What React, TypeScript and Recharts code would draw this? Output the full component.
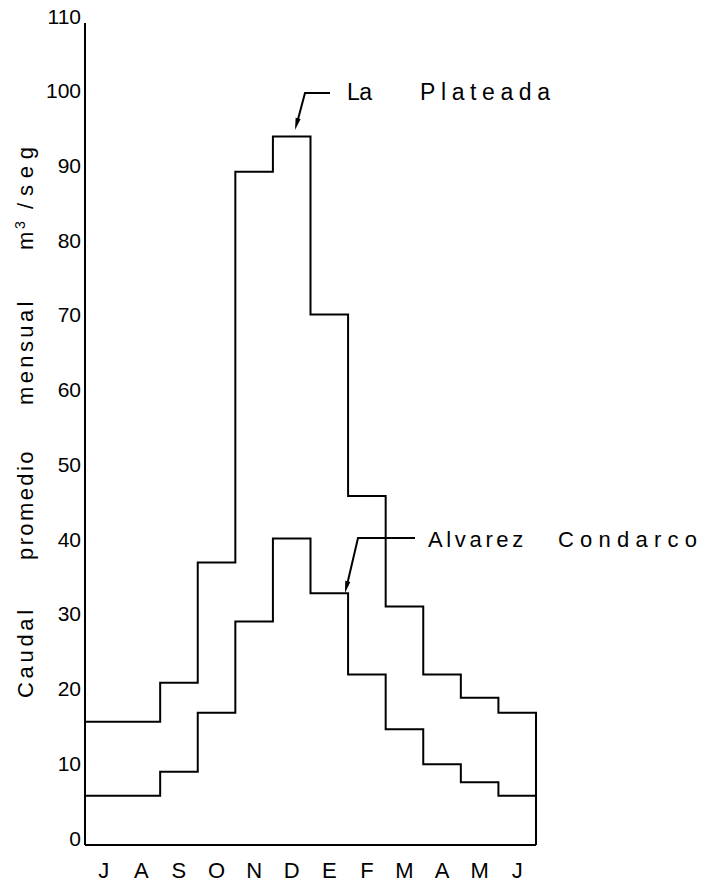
import { LineChart, Line, XAxis, YAxis } from 'recharts'

// Caudal promedio mensual (m3/seg), julio a junio
const MONTHS = ['J', 'A', 'S', 'O', 'N', 'D', 'E', 'F', 'M', 'A', 'M', 'J']
const LA_PLATEADA = [16.5, 16.5, 21.7, 37.8, 90.1, 94.8, 71.0, 46.7, 31.9, 22.8, 19.7, 17.7]
const ALVAREZ_CONDARCO = [6.6, 6.6, 9.8, 17.7, 29.9, 41.0, 33.7, 22.8, 15.5, 10.8, 8.4, 6.6]
const Y_TICKS = [0, 10, 20, 30, 40, 50, 60, 70, 80, 90, 100, 110]

const FONT = '"Liberation Sans", Arial, sans-serif'
const INK = '#000'

// one row per month, plus a closing row so the last step drops to the base line
const rows = [
  ...MONTHS.map((month, i) => ({
    pos: i,
    month,
    plateada: LA_PLATEADA[i],
    condarco: ALVAREZ_CONDARCO[i],
  })),
  { pos: MONTHS.length, month: '', plateada: 0, condarco: 0 },
]

function YTick({ x, y, payload }: any) {
  return (
    <text x={x} y={y} dy={0.5} textAnchor="end" fontFamily={FONT} fontSize={21} fill={INK}>
      {payload.value}
    </text>
  )
}

function XTick({ x, y, payload }: any) {
  return (
    <text x={x} y={y} dy={33} textAnchor="middle" fontFamily={FONT} fontSize={22} fill={INK}>
      {MONTHS[Math.floor(payload.value)]}
    </text>
  )
}

function arrowHead(tail: [number, number], tip: [number, number], len = 12, half = 2.6) {
  const dx = tip[0] - tail[0]
  const dy = tip[1] - tail[1]
  const d = Math.hypot(dx, dy)
  const ux = dx / d
  const uy = dy / d
  const bx = tip[0] - ux * len
  const by = tip[1] - uy * len
  return `${tip[0]},${tip[1]} ${bx - uy * half},${by + ux * half} ${bx + uy * half},${by - ux * half}`
}

function Annotations() {
  return (
    <svg
      width={705}
      height={889}
      style={{ position: 'absolute', left: 0, top: 0, pointerEvents: 'none', display: 'block' }}
    >
      {/* y axis title */}
      <text transform="rotate(-90)" fontFamily={FONT} fontSize={22} fill={INK}>
        <tspan x={-698} y={33} textLength={98} lengthAdjust="spacing">Caudal </tspan>
        <tspan x={-560} y={33} textLength={117} lengthAdjust="spacing">promedio </tspan>
        <tspan x={-405} y={33} textLength={113} lengthAdjust="spacing">mensual </tspan>
        <tspan x={-250} y={33}>m</tspan>
        <tspan x={-229} y={25} fontSize={14}>3</tspan>
        <tspan x={-209} y={33} textLength={62} lengthAdjust="spacing">/seg</tspan>
      </text>

      {/* La Plateada */}
      <polyline points="330,93 305,93 297,123" fill="none" stroke={INK} strokeWidth={2} />
      <polygon points={arrowHead([305, 93], [295, 130])} fill={INK} />
      <text fontFamily={FONT} fontSize={23} fill={INK}>
        <tspan x={347} y={100} textLength={31} lengthAdjust="spacing">La </tspan>
        <tspan x={420} y={100} textLength={130} lengthAdjust="spacing">Plateada</tspan>
      </text>

      {/* Alvarez Condarco */}
      <polyline points="415,538 358,538 347,585" fill="none" stroke={INK} strokeWidth={2} />
      <polygon points={arrowHead([358, 538], [345, 593])} fill={INK} />
      <text fontFamily={FONT} fontSize={22} fill={INK}>
        <tspan x={428} y={547} textLength={105} lengthAdjust="spacing">Alvarez </tspan>
        <tspan x={558} y={547} textLength={139} lengthAdjust="spacing">Condarco</tspan>
      </text>
    </svg>
  )
}

export default function App() {
  return (
    <div
      style={{
        position: 'relative',
        width: 705,
        height: 889,
        margin: -8,
        overflow: 'hidden',
        background: '#fff',
      }}
    >
      <LineChart
        width={705}
        height={889}
        data={rows}
        margin={{ top: 23, right: 169, bottom: 0, left: 0 }}
      >
        <XAxis
          dataKey="pos"
          type="number"
          domain={[0, MONTHS.length]}
          ticks={MONTHS.map((_, i) => i + 0.5)}
          interval={0}
          tickLine={false}
          tickSize={0}
          tickMargin={0}
          axisLine={{ stroke: INK, strokeWidth: 2 }}
          tick={<XTick />}
          height={44}
        />
        <YAxis
          type="number"
          domain={[0, 110]}
          ticks={Y_TICKS}
          interval={0}
          tickLine={false}
          tickSize={4}
          tickMargin={0}
          axisLine={{ stroke: INK, strokeWidth: 2 }}
          tick={<YTick />}
          width={85}
        />
        <Line
          type="stepAfter"
          dataKey="plateada"
          name="La Plateada"
          stroke={INK}
          strokeWidth={2}
          dot={false}
          activeDot={false}
          isAnimationActive={false}
        />
        <Line
          type="stepAfter"
          dataKey="condarco"
          name="Alvarez Condarco"
          stroke={INK}
          strokeWidth={2}
          dot={false}
          activeDot={false}
          isAnimationActive={false}
        />
      </LineChart>
      <Annotations />
    </div>
  )
}
